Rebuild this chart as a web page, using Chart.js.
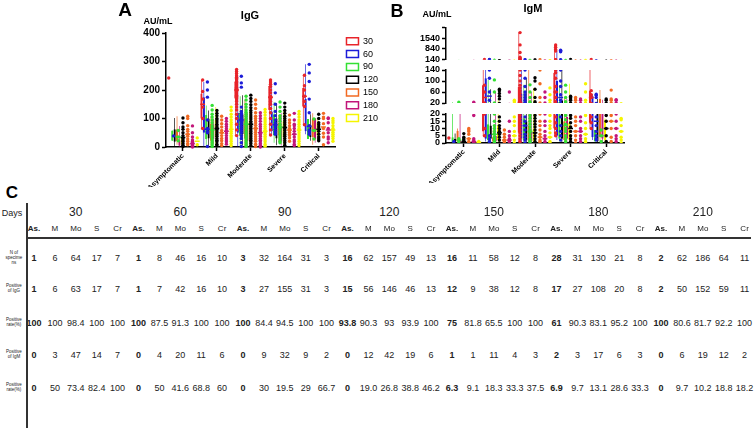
<!DOCTYPE html>
<html lang="en">
<head>
<meta charset="UTF-8">
<title>IgG and IgM by severity and day</title>
<script src="https://cdn.jsdelivr.net/npm/chart.js"></script>
<style>
  body { margin: 0; background: #fff; font-family: 'Liberation Sans', Arial, sans-serif; }
  #page { position: relative; width: 754px; height: 430px; overflow: hidden; }
  canvas { position: absolute; }
  .t { position: absolute; white-space: nowrap; color: #000; transform: translate(-50%, -50%); line-height: 1; text-align: center; }
  .hl { position: absolute; background: #333; }
</style>
</head>
<body>
<div id="page">
  <canvas id="chartA" width="288" height="187" style="left:100px;top:0px"></canvas>
  <canvas id="chartBTop" width="230" height="47" style="left:400px;top:20px"></canvas>
  <canvas id="chartBMid" width="230" height="49" style="left:400px;top:62px"></canvas>
  <canvas id="chartBBot" width="230" height="77" style="left:400px;top:106px"></canvas>
</div>
<script>
// ---- data ----
const categories = ['Asymptomatic', 'Mild', 'Moderate', 'Severe', 'Critical'];
const dayLabels = ['30', '60', '90', '120', '150', '180', '210'];
const dayColors = ['#e8242a', '#1c1cd8', '#33e033', '#000000', '#f26a22', '#c2167a', '#f5f500'];

// IgG box stats per category: [min, q1, median, q3, max]; null = single specimen
const igG30  = [null, [62,100,150,188,235], [40,170,200,230,272], [42,130,175,215,235], [78,142,178,207,252]];
const igG60  = [null, [2,50,62,175,228], [2,50,95,120,248], [45,55,78,125,222], [45,55,72,168,290]];
const igG90  = [[22,22,35,58,58], [2,28,60,112,146], [2,40,80,120,178], [15,40,70,115,158], [28,28,58,98,98]];
const igG120 = [[2,18,33,62,102], [4,30,65,100,128], [5,45,80,115,182], [6,30,68,100,154], [22,35,62,78,115]];
const igG150 = [[8,20,45,62,108], [5,22,50,82,108], [2,30,65,100,165], [20,40,60,85,112], [8,35,70,100,118]];
const igG180 = [[0,4,12,24,74], [10,28,55,80,100], [0,20,50,80,120], [5,18,45,75,118], [15,28,60,100,102]];
const igG210 = [[8,8,20,32,32], [5,35,62,95,140], [3,25,55,90,132], [5,35,60,90,125], [20,40,60,85,100]];

// IgG individual specimens (sampled)
const igG30Pts  = [[242], [235,195,168,140,100,65], [272,265,258,250,245,240,236,230,226,222,218,214,210,206,202,198,195,190,186,182,178,174,170,165,160,150,140,130,115,100,80,60,40], [235,228,220,212,200,190,178,170,160,150,135,120,100,80,60,42], [252,215,200,178,160,142,78]];
const igG60Pts  = [[39], [228,200,175,95,65,55,50,2], [248,225,210,140,125,118,112,105,100,95,90,85,80,72,65,58,50,40,30,15,2], [222,190,150,125,110,95,85,78,70,62,55,50,45], [290,260,230,168,120,75,60,55,50,45]];
const igG90Pts  = [[58,35,22], [146,130,115,105,95,85,75,68,60,52,45,38,30,22,15,8,2], [178,165,150,140,130,122,115,108,100,92,86,80,74,68,62,55,48,42,36,30,22,15,8,2], [158,140,125,110,100,90,80,72,65,58,50,42,35,28,20,15], [98,58,28]];
const igG120Pts = [[102,85,70,62,50,40,33,28,22,18,12,6,2], [128,118,110,100,95,88,80,74,68,62,56,50,44,38,30,24,18,10,4], [182,170,160,148,138,128,120,112,105,98,90,84,78,72,66,60,54,48,42,36,30,24,18,12,5], [154,140,128,118,108,100,92,85,78,70,64,58,50,44,38,30,22,15,6], [115,100,85,78,70,62,55,45,35,28,22]];
const igG150Pts = [[108,100,75,62,55,45,38,28,20,12,8], [108,95,82,70,58,50,40,30,22,12,5], [165,150,135,120,108,100,92,84,76,68,60,52,44,36,28,20,10,2], [112,95,85,75,65,58,52,45,40,32,20], [118,105,100,82,65,48,35,8]];
const igG180Pts = [[74,50,35,25,20,15,10,6,3,0], [100,90,80,72,64,56,48,40,32,25,18,10], [120,110,100,90,80,72,64,56,50,44,38,30,24,18,12,6,0], [118,95,80,75,65,55,45,35,25,18,10,5], [102,100,85,65,50,35,28,15]];
const igG210Pts = [[32,8], [140,128,115,105,95,86,78,70,62,55,48,40,35,28,20,12,5], [132,122,112,102,95,88,80,72,65,58,52,45,38,32,25,18,10,3], [125,115,105,95,88,80,72,65,58,50,42,35,28,20,12,5], [100,92,85,75,65,60,52,45,38,30,20]];

// IgM box stats per category: [min, q1, median, q3, max]
const igM30  = [null, [5,8,40,85,150], [0,7,22,78,1900], [5,10,60,130,1100], [10,14,40,65,150]];
const igM60  = [null, [1,3,45,110,150], [0,3,12,55,140], [2,5,40,100,750], [2,4,15,45,52]];
const igM90  = [[0,0.5,2,4,23], [0,2,6,13,104], [0,2,8,17,86], [1,3,12,25,85], [1,1,5,9,9]];
const igM120 = [[0,0.5,1,3,6.5], [0,3,7,12,70], [0,2,7,15,112], [0,3,10,30,150], [0,1,10,20,35]];
const igM150 = [[0,1,3,8.5,10], [0,1,2,4,9], [0,1,4,12,140], [0,2,8,15,40], [1,4,15,35,67]];
const igM180 = [[0,0.5,1,2,23], [0,1,2,5,60], [0,1,3,8,60], [1,3,8,18,35], [1,3,10,20,32]];
const igM210 = [[0,0,0.5,1,1], [0,2,5,12,30], [0,1,4,10,75], [0,2,6,14,90], [0,2,8,16,17]];

const igM30Pts  = [[3.4], [150,85,60,20,10,5], [1900,1100,600,300,200,160,140,120,100,85,75,65,55,45,35,28,22,19,17,15,13,11,9,7,5,3,1], [1100,950,800,700,140,130,110,80,60,40,25,18,14,10,7,5], [150,65,50,40,18,14,10]];
const igM60Pts  = [[1], [150,140,110,60,30,5,3,1], [140,110,80,60,50,40,30,22,18,15,12,9,6,4,2,0], [750,700,650,140,100,80,50,30,18,12,8,5,2], [52,48,40,18,12,8,5,3,2]];
const igM90Pts  = [[23,3,0.5], [104,60,20,15,12,10,8,6,4,3,2,1,0], [86,60,40,25,19,17,15,13,11,9,7,5,3,2,1,0], [85,60,40,25,19,16,13,10,8,5,3,1], [9,5,1]];
const igM120Pts = [[6.5,4,3,2,1,0.5,0], [70,65,55,45,35,18,15,12,10,8,6,4,2,0], [112,100,70,40,25,19,17,15,13,11,9,7,5,3,1,0], [150,45,40,35,30,19,17,14,11,8,5,3,1,0], [35,30,19,15,10,5,1,0]];
const igM150Pts = [[10,9,8,6,3,1,0], [9,6,4,2,1,0], [140,90,40,20,15,12,9,6,4,2,1,0], [40,35,30,18,15,12,8,5,2,0], [67,35,30,19,15,10,4,1]];
const igM180Pts = [[23,19,3,2,1,0.5,0], [60,15,8,5,3,2,1,0], [60,40,20,15,12,8,5,3,1,0], [35,30,18,15,10,8,5,3,1], [32,30,20,15,10,5,3,1]];
const igM210Pts = [[1,0], [30,25,18,15,12,8,5,2,0], [75,50,30,19,15,12,10,7,4,1,0], [90,60,30,19,14,10,6,3,1,0], [17,16,12,8,4,2,0]];

// table C
const tableDays = ['30', '60', '90', '120', '150', '180', '210'];
const tableGroups = ['As.', 'M', 'Mo', 'S', 'Cr'];
const rowLabels = [['N of', 'specime', 'ns'], ['Positive', 'of IgG'], ['Positive', 'rate(%)'], ['Positive', 'of IgM'], ['Positive', 'rate(%)']];
const nSpecimens = ['1','6','64','17','7', '1','8','46','16','10', '3','32','164','31','3', '16','62','157','49','13', '16','11','58','12','8', '28','31','130','21','8', '2','62','186','64','11'];
const posIgG = ['1','6','63','17','7', '1','7','42','16','10', '3','27','155','31','3', '15','56','146','46','13', '12','9','38','12','8', '17','27','108','20','8', '2','50','152','59','11'];
const rateIgG = ['100','100','98.4','100','100', '100','87.5','91.3','100','100', '100','84.4','94.5','100','100', '93.8','90.3','93','93.9','100', '75','81.8','65.5','100','100', '61','90.3','83.1','95.2','100', '100','80.6','81.7','92.2','100'];
const posIgM = ['0','3','47','14','7', '0','4','20','11','6', '0','9','32','9','2', '0','12','42','19','6', '1','1','11','4','3', '2','3','17','6','3', '0','6','19','12','2'];
const rateIgM = ['0','50','73.4','82.4','100', '0','50','41.6','68.8','60', '0','30','19.5','29','66.7', '0','19.0','26.8','38.8','46.2', '6.3','9.1','18.3','33.3','37.5', '6.9','9.7','13.1','28.6','33.3', '0','9.7','10.2','18.8','18.2'];

// ---- charts ----
Chart.defaults.font.family = "'Liberation Sans', Arial, sans-serif";
Chart.defaults.color = '#000';

const CAT_PCT = 0.98;
function slotOffset(k) { return -CAT_PCT / 2 + (k + 0.5) * CAT_PCT / 7; }

function buildDatasets(statsByDay, dotsByDay, clip) {
  const ds = [];
  statsByDay.forEach((byCat, k) => {
    const col = dayColors[k];
    ds.push({ type: 'bar', label: dayLabels[k], stack: 's' + k, order: 2, clip, xAxisID: 'x', yAxisID: 'y',
      data: byCat.map(s => s ? [s[1], s[3]] : null),
      backgroundColor: 'rgba(255,255,255,0)', borderColor: col, borderWidth: 1.5, borderSkipped: false,
      barPercentage: 0.95, categoryPercentage: CAT_PCT });
    ds.push({ type: 'bar', label: '_w', stack: 's' + k, order: 3, clip, xAxisID: 'x', yAxisID: 'y',
      data: byCat.map(s => s ? [s[0], s[4]] : null),
      backgroundColor: col, borderWidth: 0, barPercentage: 0.28, categoryPercentage: CAT_PCT });
    const pts = [];
    dotsByDay[k].forEach((vals, i) => vals.forEach(v => pts.push({ x: i + slotOffset(k), y: v })));
    ds.push({ type: 'scatter', label: '_p', order: 1, clip, xAxisID: 'x2', yAxisID: 'y', data: pts,
      pointRadius: 1.7, backgroundColor: col, borderColor: col, pointBorderWidth: 0 });
    ds.push({ type: 'scatter', label: '_m', order: 0, clip, xAxisID: 'x2', yAxisID: 'y',
      data: byCat.map((s, i) => s ? { x: i + slotOffset(k), y: s[2] } : null).filter(Boolean),
      pointStyle: 'line', pointRadius: 2.4, borderColor: col, backgroundColor: col, pointBorderWidth: 1.5 });
  });
  return ds;
}

function xScales(show) {
  return {
    x: { type: 'category', labels: categories, offset: true, display: show, stacked: true,
      grid: { drawOnChartArea: false, offset: false, tickLength: 4, tickWidth: 1.5, tickColor: '#000' },
      border: { color: '#000', width: 1.5 },
      ticks: { minRotation: 45, maxRotation: 45, autoSkip: false, padding: 1, font: { size: 7, weight: 'bold' } },
      afterFit(s) { if (show) s.height = 40; } },
    x2: { type: 'linear', display: false, offset: false, min: -0.5, max: 4.5 }
  };
}

function yScale(min, max, step, size, width, hideTop) {
  return { min, max, stacked: false,
    ticks: { stepSize: step, padding: 2, autoSkip: false, font: { size, weight: 'bold' },
      callback: v => (hideTop && v === max) ? '' : v },
    grid: { drawOnChartArea: false, tickLength: 4, tickWidth: 1.5, tickColor: '#000' },
    border: { color: '#000', width: 1.5 },
    afterFit(s) { s.width = width; } };
}

const baseOpts = { responsive: false, animation: false, events: [] };

const igGStats = [igG30, igG60, igG90, igG120, igG150, igG180, igG210];
const igGDots = [igG30Pts, igG60Pts, igG90Pts, igG120Pts, igG150Pts, igG180Pts, igG210Pts];
const igMStats = [igM30, igM60, igM90, igM120, igM150, igM180, igM210];
const igMDots = [igM30Pts, igM60Pts, igM90Pts, igM120Pts, igM150Pts, igM180Pts, igM210Pts];

new Chart(document.getElementById('chartA'), {
  type: 'bar',
  data: { labels: categories, datasets: buildDatasets(igGStats, igGDots, 3) },
  options: { ...baseOpts,
    layout: { padding: { top: 33, left: 0, right: 0, bottom: 0 } },
    scales: { ...xScales(true), y: yScale(0, 400, 100, 10, 66, false),
      yR: { position: 'right', grid: { display: false }, border: { display: false }, ticks: { display: false },
        afterFit(s) { s.width = 7; } } },
    plugins: {
      legend: { position: 'right', align: 'start',
        labels: { boxWidth: 12, boxHeight: 7, padding: 3.8, font: { size: 9 }, color: '#000',
          filter: it => !it.text.startsWith('_') } },
      tooltip: { enabled: false }
    }
  }
});

function igMChart(id, min, max, step, showX, pad) {
  new Chart(document.getElementById(id), {
    type: 'bar',
    data: { labels: categories, datasets: buildDatasets(igMStats, igMDots, 0) },
    options: { ...baseOpts,
      layout: { padding: pad },
      scales: { ...xScales(showX), y: yScale(min, max, step, 9, 46, id === 'chartBTop') },
      plugins: { legend: { display: false }, tooltip: { enabled: false } }
    }
  });
}
igMChart('chartBTop', 140, 2240, 700, false, { top: 6.5, bottom: 6, left: 0, right: 6 });
igMChart('chartBMid', 20, 140, 40, false, { top: 8, bottom: 8, left: 0, right: 6 });
igMChart('chartBBot', 0, 20, 5, true, { top: 8, bottom: 0, left: 0, right: 6 });

// ---- titles and table text ----
const page = document.getElementById('page');
function txt(str, x, y, size, weight, color) {
  const d = document.createElement('div');
  d.className = 't';
  d.textContent = str;
  d.style.left = x + 'px';
  d.style.top = y + 'px';
  d.style.fontSize = size + 'px';
  d.style.fontWeight = weight || 'normal';
  if (color) d.style.color = color;
  page.appendChild(d);
  return d;
}
function line(x, y, w, h) {
  const d = document.createElement('div');
  d.className = 'hl';
  Object.assign(d.style, { left: x + 'px', top: y + 'px', width: w + 'px', height: h + 'px' });
  page.appendChild(d);
}

txt('A', 125, 9, 19, 'bold');
txt('IgG', 250, 15, 11, 'bold');
txt('AU/mL', 158, 21, 9, 'bold');
txt('B', 397, 11, 18, 'bold');
txt('IgM', 533, 8, 11, 'bold');
txt('AU/mL', 437, 14, 9, 'bold');
txt('C', 12, 192, 17, 'bold');

const colX = k => 34 + k * 20.9;
const rows = [nSpecimens, posIgG, rateIgG, posIgM, rateIgM];
const rowY = [258, 289, 323, 355, 388];
const ink = '#222';

txt('Days', 12, 213, 9, 'normal', ink);
tableDays.forEach((d, g) => txt(d, colX(g * 5 + 2), 212, 12, 'normal', ink));
for (let k = 0; k < 35; k++) {
  txt(tableGroups[k % 5], colX(k), 229, 8, k % 5 === 0 ? 'bold' : 'normal', ink);
}
rows.forEach((vals, r) => {
  vals.forEach((v, k) => txt(v, colX(k), rowY[r], 9, k % 5 === 0 ? 'bold' : 'normal', ink));
  const lab = txt('', 14, rowY[r], 4.5, 'normal', ink);
  lab.innerHTML = rowLabels[r].join('<br>');
  lab.style.lineHeight = '1.1';
});
line(26, 203, 1.5, 225);
line(26, 237, 725, 1.5);
</script>
</body>
</html>
